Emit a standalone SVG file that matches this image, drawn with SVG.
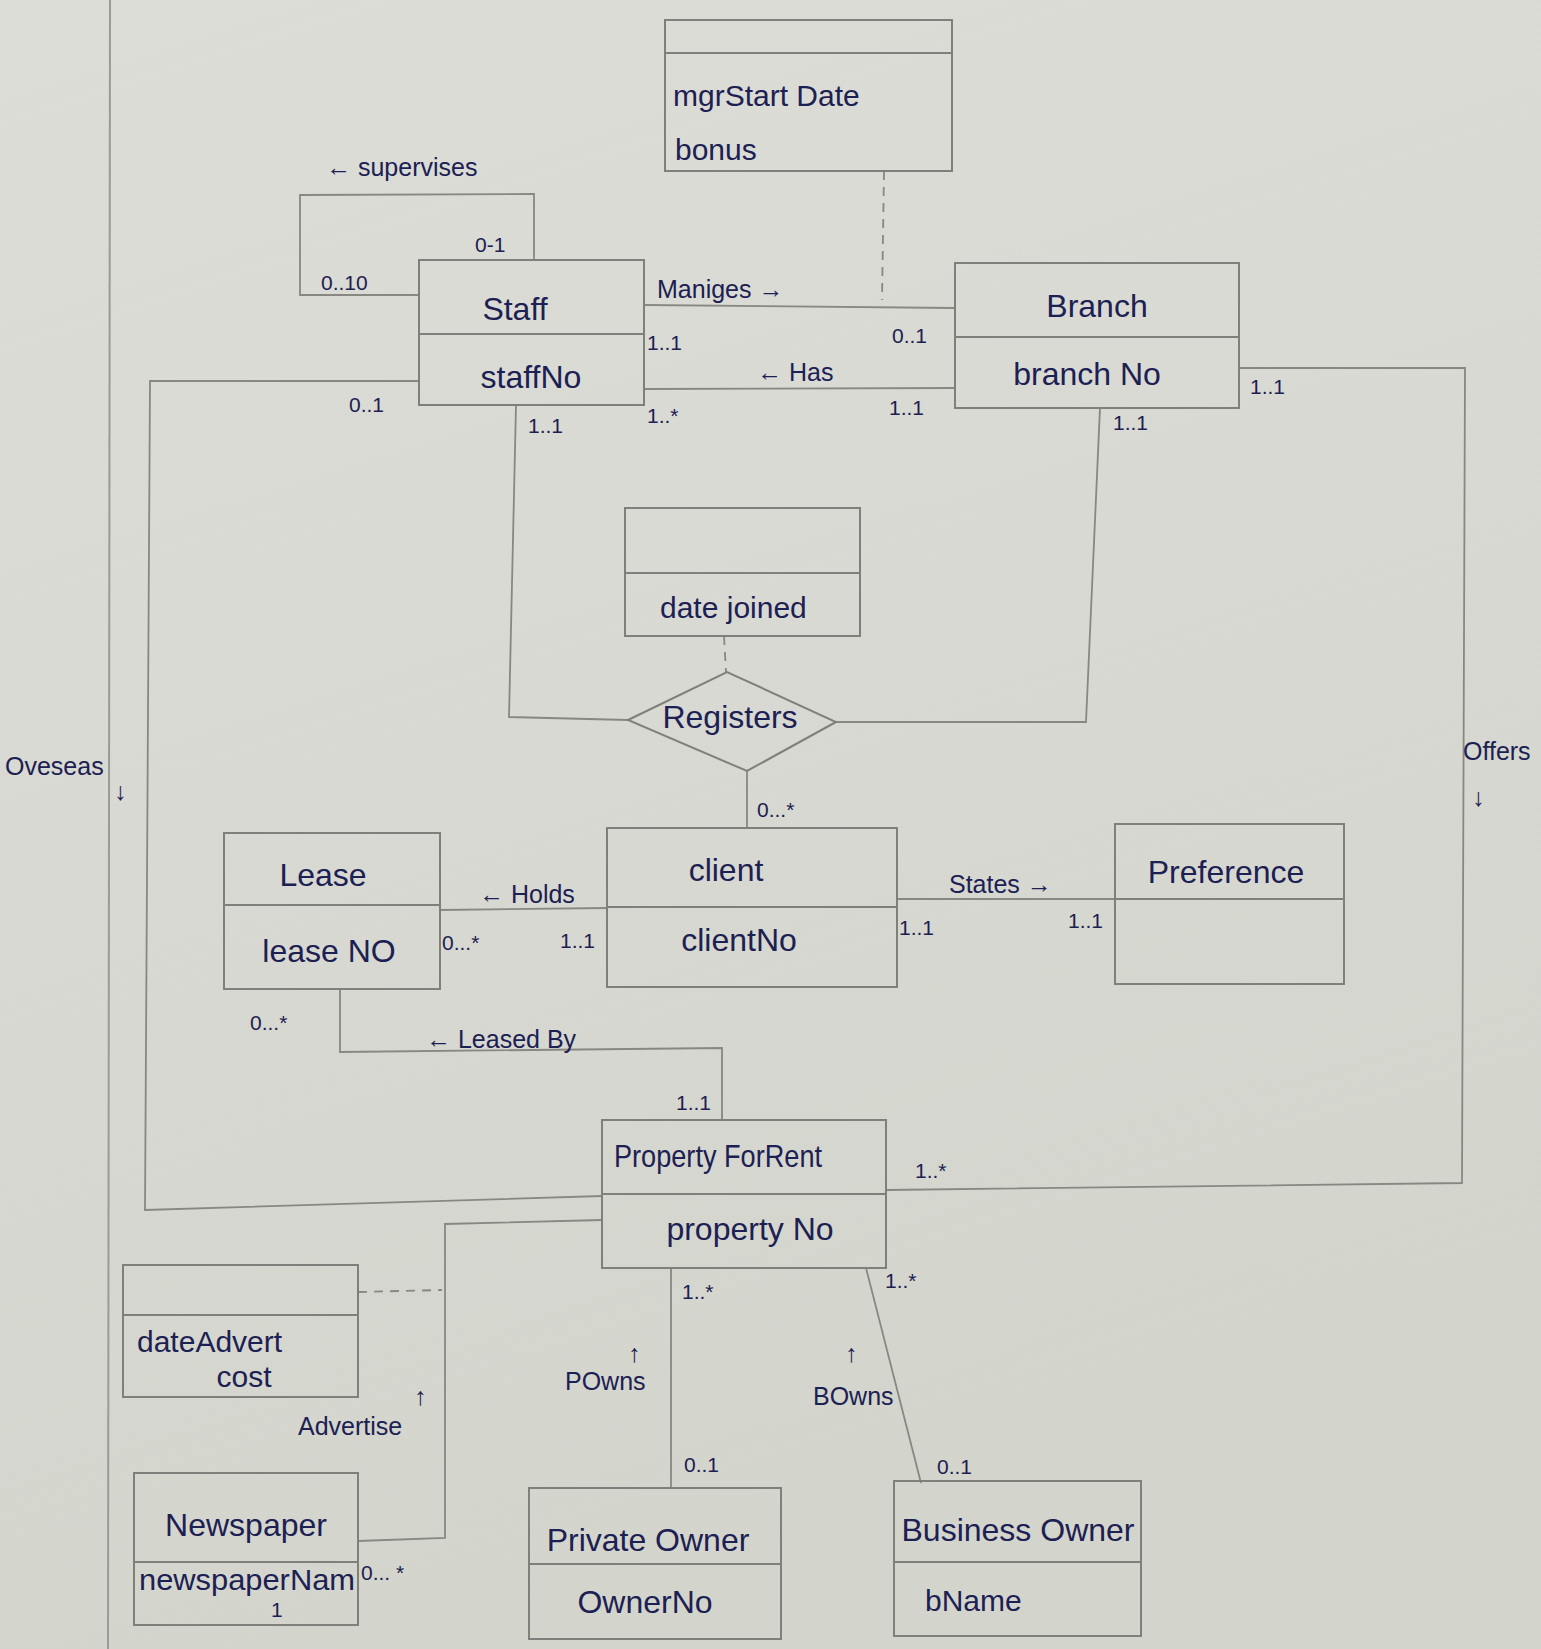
<svg xmlns="http://www.w3.org/2000/svg" width="1541" height="1649" viewBox="0 0 1541 1649">
  <defs>
    <linearGradient id="paper" x1="0" y1="0" x2="0.3" y2="1">
      <stop offset="0" stop-color="#dcddd7"/>
      <stop offset="1" stop-color="#d3d5cd"/>
    </linearGradient>
  </defs>
  <style>
    .box { fill: none; stroke: #7f807b; stroke-width: 2; }
    .ln { fill: none; stroke: #878882; stroke-width: 1.8; }
    .dash { stroke-dasharray: 9 7; }
    .t { font-family: "Liberation Sans", "DejaVu Sans", sans-serif; fill: #1c2052; }
    .name { font-size: 32px; text-anchor: middle; }
    .attr { font-size: 30px; }
    .lab { font-size: 25px; }
    .mul { font-size: 21px; }
    .mid { text-anchor: middle; }
  </style>

  <!-- sheet -->
  <rect x="0" y="0" width="1541" height="1649" fill="url(#paper)"/>
  <line x1="110" y1="0" x2="108" y2="1649" stroke="#9a9b96" stroke-width="2"/>

  <!-- associations -->
  <g id="connectors">
    <!-- supervises (self association on Staff) -->
    <path class="ln" d="M419 295 L300 295 L300 195 L534 194 L534 260"/>
    <!-- Manages -->
    <path class="ln" d="M644 305 L955 308"/>
    <path class="ln dash" d="M884 171 L882 300"/>
    <!-- Has -->
    <path class="ln" d="M644 389 L955 388"/>
    <!-- Oversees -->
    <path class="ln" d="M419 381 L150 381 L145 1210 L602 1196"/>
    <!-- Offers -->
    <path class="ln" d="M1239 368 L1465 368 L1462 1183 L886 1190"/>
    <!-- Registers -->
    <path class="ln" d="M516 405 L509 717 L628 720"/>
    <path class="ln" d="M836 722 L1086 722 L1100 408"/>
    <path class="ln dash" d="M724 636 L726 672"/>
    <path class="ln" d="M747 771 L747 828"/>
    <!-- Holds -->
    <path class="ln" d="M440 910 L607 908"/>
    <!-- States -->
    <path class="ln" d="M897 899 L1115 899"/>
    <!-- Leased By -->
    <path class="ln" d="M340 989 L340 1052 L722 1048 L722 1120"/>
    <!-- Advertise -->
    <path class="ln" d="M602 1220 L445 1224 L445 1538 L358 1541"/>
    <path class="ln dash" d="M358 1292 L442 1290"/>
    <!-- POwns -->
    <path class="ln" d="M671 1268 L671 1488"/>
    <!-- BOwns -->
    <path class="ln" d="M866 1268 L921 1483"/>
  </g>

  <!-- association labels and multiplicities -->
  <g id="labels" class="t">
    <text class="lab" x="326" y="176" font-size="27">← supervises</text>
    <text class="mul" x="475" y="252">0-1</text>
    <text class="mul" x="321" y="290">0..10</text>

    <text class="lab" x="657" y="298" font-size="28">Maniges →</text>
    <text class="mul" x="647" y="350">1..1</text>
    <text class="mul" x="892" y="343">0..1</text>
    <text class="lab" x="757" y="381">← Has</text>
    <text class="mul" x="647" y="423">1..*</text>
    <text class="mul" x="889" y="415">1..1</text>

    <text class="mul" x="349" y="412">0..1</text>
    <text class="lab" x="5" y="775" font-size="27">Oveseas</text>
    <text class="lab" x="114" y="800">↓</text>

    <text class="mul" x="1250" y="394">1..1</text>
    <text class="lab" x="1463" y="760" font-size="24">Offers</text>
    <text class="lab" x="1472" y="806">↓</text>
    <text class="mul" x="915" y="1178">1..*</text>

    <text class="mul" x="528" y="433">1..1</text>
    <text class="mul" x="1113" y="430">1..1</text>
    <text class="mul" x="757" y="817">0...*</text>

    <text class="lab" x="479" y="903" font-size="24">← Holds</text>
    <text class="mul" x="442" y="950">0...*</text>
    <text class="mul" x="560" y="948">1..1</text>

    <text class="lab" x="949" y="893" font-size="27">States →</text>
    <text class="mul" x="899" y="935">1..1</text>
    <text class="mul" x="1068" y="928">1..1</text>

    <text class="mul" x="250" y="1030">0...*</text>
    <text class="lab" x="426" y="1048" font-size="28">← Leased By</text>
    <text class="mul" x="676" y="1110">1..1</text>

    <text class="lab" x="298" y="1435" font-size="24">Advertise</text>
    <text class="lab" x="414" y="1405" font-size="22">↑</text>
    <text class="mul" x="361" y="1580">0... *</text>

    <text class="mul" x="682" y="1299">1..*</text>
    <text class="lab" x="565" y="1390" font-size="26">POwns</text>
    <text class="lab" x="628" y="1362" font-size="22">↑</text>
    <text class="mul" x="684" y="1472">0..1</text>

    <text class="mul" x="885" y="1288">1..*</text>
    <text class="lab" x="813" y="1405" font-size="26">BOwns</text>
    <text class="lab" x="845" y="1362" font-size="22">↑</text>
    <text class="mul" x="937" y="1474">0..1</text>
  </g>

  <!-- association class for Manages -->
  <g id="manages-attrs">
    <rect class="box" x="665" y="20" width="287" height="151"/>
    <line class="box" x1="665" y1="53" x2="952" y2="53"/>
    <text class="t attr" x="673" y="106" font-size="34">mgrStart Date</text>
    <text class="t attr" x="675" y="160" font-size="32">bonus</text>
  </g>

  <g id="staff">
    <rect class="box" x="419" y="260" width="225" height="145"/>
    <line class="box" x1="419" y1="334" x2="644" y2="334"/>
    <text class="t name" x="515" y="320" font-size="37">Staff</text>
    <text class="t name" x="531" y="388" font-size="31">staffNo</text>
  </g>

  <g id="branch">
    <rect class="box" x="955" y="263" width="284" height="145"/>
    <line class="box" x1="955" y1="337" x2="1239" y2="337"/>
    <text class="t name" x="1097" y="317" font-size="35">Branch</text>
    <text class="t name" x="1087" y="385" font-size="31">branch No</text>
  </g>

  <!-- association class for Registers -->
  <g id="registers-attrs">
    <rect class="box" x="625" y="508" width="235" height="128"/>
    <line class="box" x1="625" y1="573" x2="860" y2="573"/>
    <text class="t attr" x="660" y="618" font-size="32">date joined</text>
  </g>

  <g id="registers">
    <polygon class="box" points="628,720 727,672 836,722 747,771"/>
    <text class="t name" x="730" y="728" font-size="28">Registers</text>
  </g>

  <g id="client">
    <rect class="box" x="607" y="828" width="290" height="159"/>
    <line class="box" x1="607" y1="907" x2="897" y2="907"/>
    <text class="t name" x="726" y="881" font-size="34">client</text>
    <text class="t name" x="739" y="951" font-size="30">clientNo</text>
  </g>

  <g id="lease">
    <rect class="box" x="224" y="833" width="216" height="156"/>
    <line class="box" x1="224" y1="905" x2="440" y2="905"/>
    <text class="t name" x="323" y="886" font-size="34">Lease</text>
    <text class="t name" x="329" y="962" font-size="30">lease NO</text>
  </g>

  <g id="preference">
    <rect class="box" x="1115" y="824" width="229" height="160"/>
    <line class="box" x1="1115" y1="899" x2="1344" y2="899"/>
    <text class="t name" x="1226" y="883" font-size="32">Preference</text>
  </g>

  <g id="property-for-rent">
    <rect class="box" x="602" y="1120" width="284" height="148"/>
    <line class="box" x1="602" y1="1194" x2="886" y2="1194"/>
    <text class="t name" x="718" y="1167" font-size="27" textLength="208" lengthAdjust="spacingAndGlyphs">Property ForRent</text>
    <text class="t name" x="750" y="1240" font-size="30">property No</text>
  </g>

  <!-- association class for Advertise -->
  <g id="advertise-attrs">
    <rect class="box" x="123" y="1265" width="235" height="132"/>
    <line class="box" x1="123" y1="1315" x2="358" y2="1315"/>
    <text class="t attr" x="137" y="1352" font-size="27">dateAdvert</text>
    <text class="t attr mid" x="244" y="1387" font-size="25">cost</text>
  </g>

  <g id="newspaper">
    <rect class="box" x="134" y="1473" width="224" height="152"/>
    <line class="box" x1="134" y1="1562" x2="358" y2="1562"/>
    <text class="t name" x="246" y="1536" font-size="30">Newspaper</text>
    <text class="t attr" x="139" y="1590" font-size="24" textLength="216" lengthAdjust="spacingAndGlyphs">newspaperNam</text>
    <text class="t mul" x="271" y="1617" font-size="18">1</text>
  </g>

  <g id="private-owner">
    <rect class="box" x="529" y="1488" width="252" height="151"/>
    <line class="box" x1="529" y1="1564" x2="781" y2="1564"/>
    <text class="t name" x="648" y="1551" font-size="30">Private Owner</text>
    <text class="t name" x="645" y="1613" font-size="28">OwnerNo</text>
  </g>

  <g id="business-owner">
    <rect class="box" x="894" y="1481" width="247" height="155"/>
    <line class="box" x1="894" y1="1562" x2="1141" y2="1562"/>
    <text class="t name" x="1018" y="1541" font-size="30">Business Owner</text>
    <text class="t attr" x="925" y="1611" font-size="28">bName</text>
  </g>
</svg>
